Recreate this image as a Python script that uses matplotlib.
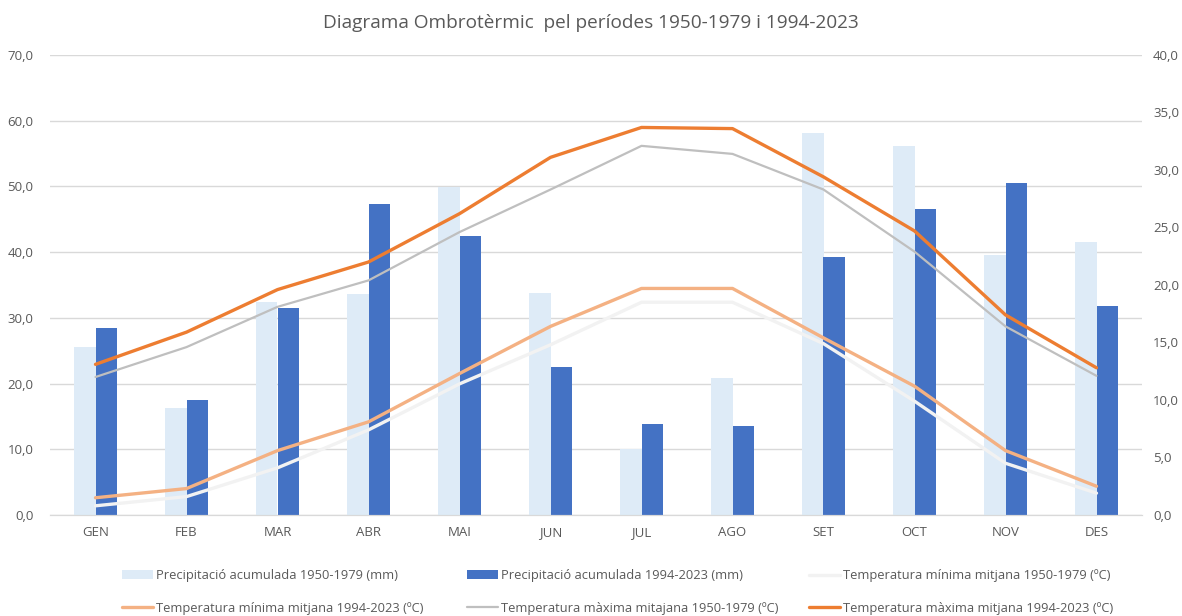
import matplotlib.pyplot as plt
import numpy as np

# Monthly data
months = ['GEN', 'FEB', 'MAR', 'ABR', 'MAI', 'JUN', 'JUL', 'AGO', 'SET', 'OCT', 'NOV', 'DES']
prec_old = [25.6, 16.3, 32.4, 33.6, 49.9, 33.8, 10.0, 20.8, 58.1, 56.2, 39.6, 41.5]
prec_new = [28.5, 17.5, 31.5, 47.4, 42.5, 22.5, 13.8, 13.6, 39.3, 46.6, 50.5, 31.8]
tmin_old = [0.8, 1.6, 4.1, 7.4, 11.4, 14.8, 18.5, 18.5, 14.9, 9.9, 4.5, 1.9]
tmin_new = [1.5, 2.3, 5.6, 8.1, 12.3, 16.4, 19.7, 19.7, 15.4, 11.2, 5.6, 2.5]
tmax_old = [12.0, 14.6, 18.1, 20.4, 24.6, 28.3, 32.1, 31.4, 28.3, 22.9, 16.4, 12.1]
tmax_new = [13.1, 15.9, 19.6, 22.0, 26.2, 31.1, 33.7, 33.6, 29.4, 24.7, 17.4, 12.8]

labels = ['Precipitació acumulada 1950-1979 (mm)',
          'Precipitació acumulada 1994-2023 (mm)',
          'Temperatura mínima mitjana 1950-1979 (ºC)',
          'Temperatura mínima mitjana 1994-2023 (ºC)',
          'Temperatura màxima mitajana 1950-1979 (ºC)',
          'Temperatura màxima mitjana 1994-2023 (ºC)']

plt.rcParams['font.family'] = ['Open Sans', 'DejaVu Sans']
text_color = '#595959'
grid_color = '#D9D9D9'

fig = plt.figure(figsize=(11.82, 6.16), dpi=100)
ax = fig.add_axes([50 / 1182, 1 - 515 / 616, 1092 / 1182, 460 / 616])
ax2 = ax.twinx()

x = np.arange(len(months))
w = 0.24
b1 = ax.bar(x - w / 2, prec_old, width=w, color='#DEEBF7', zorder=2)
b2 = ax.bar(x + w / 2, prec_new, width=w, color='#4472C4', zorder=2)

l1, = ax2.plot(x, tmin_old, color='#F2F2F2', linewidth=2.4, solid_capstyle='round')
l2, = ax2.plot(x, tmin_new, color='#F4B183', linewidth=2.4, solid_capstyle='round')
l3, = ax2.plot(x, tmax_old, color='#BFBFBF', linewidth=1.6, solid_capstyle='round')
l4, = ax2.plot(x, tmax_new, color='#ED7D31', linewidth=2.4, solid_capstyle='round')

ax.set_xlim(-0.5, len(months) - 0.5)
ax.set_ylim(0, 70)
ax.set_yticks(np.arange(0, 71, 10))
ax.set_yticklabels([f'{v:.1f}'.replace('.', ',') for v in np.arange(0, 71, 10)])
ax2.set_ylim(0, 40)
ax2.set_yticks(np.arange(0, 41, 5))
ax2.set_yticklabels([f'{v:.1f}'.replace('.', ',') for v in np.arange(0, 41, 5)])
ax.set_xticks(x)
ax.set_xticklabels(months)

ax.grid(axis='y', color=grid_color, linewidth=1.0, zorder=0)
ax.set_axisbelow(True)
for a in (ax, ax2):
    for s in ('top', 'left', 'right'):
        a.spines[s].set_visible(False)
    a.spines['bottom'].set_color(grid_color)
    a.tick_params(length=0, colors=text_color, labelsize=9.5)
ax.tick_params(axis='y', pad=12)
ax2.tick_params(axis='y', pad=8)
ax.tick_params(axis='x', pad=8)

fig.text(0.5, 1 - 23 / 616, 'Diagrama Ombrotèrmic  pel períodes 1950-1979 i 1994-2023',
         ha='center', va='center', fontsize=13.7, color=text_color)

# Legend: three equal-width columns, two rows (row-major order as in the original)
handles = [b1, b2, l1, l2, l3, l4]
col_x = [122, 467, 809]
for c in range(3):
    idx = [c, c + 3]
    fig.legend([handles[i] for i in idx], [labels[i] for i in idx],
               loc='center left', bbox_to_anchor=(col_x[c] / 1182, 1 - 592 / 616),
               frameon=False, fontsize=9.3, labelcolor=text_color,
               handlelength=2.4, handletextpad=0.2, borderpad=0, borderaxespad=0,
               labelspacing=1.5)

fig.savefig('out.png', dpi=100)
